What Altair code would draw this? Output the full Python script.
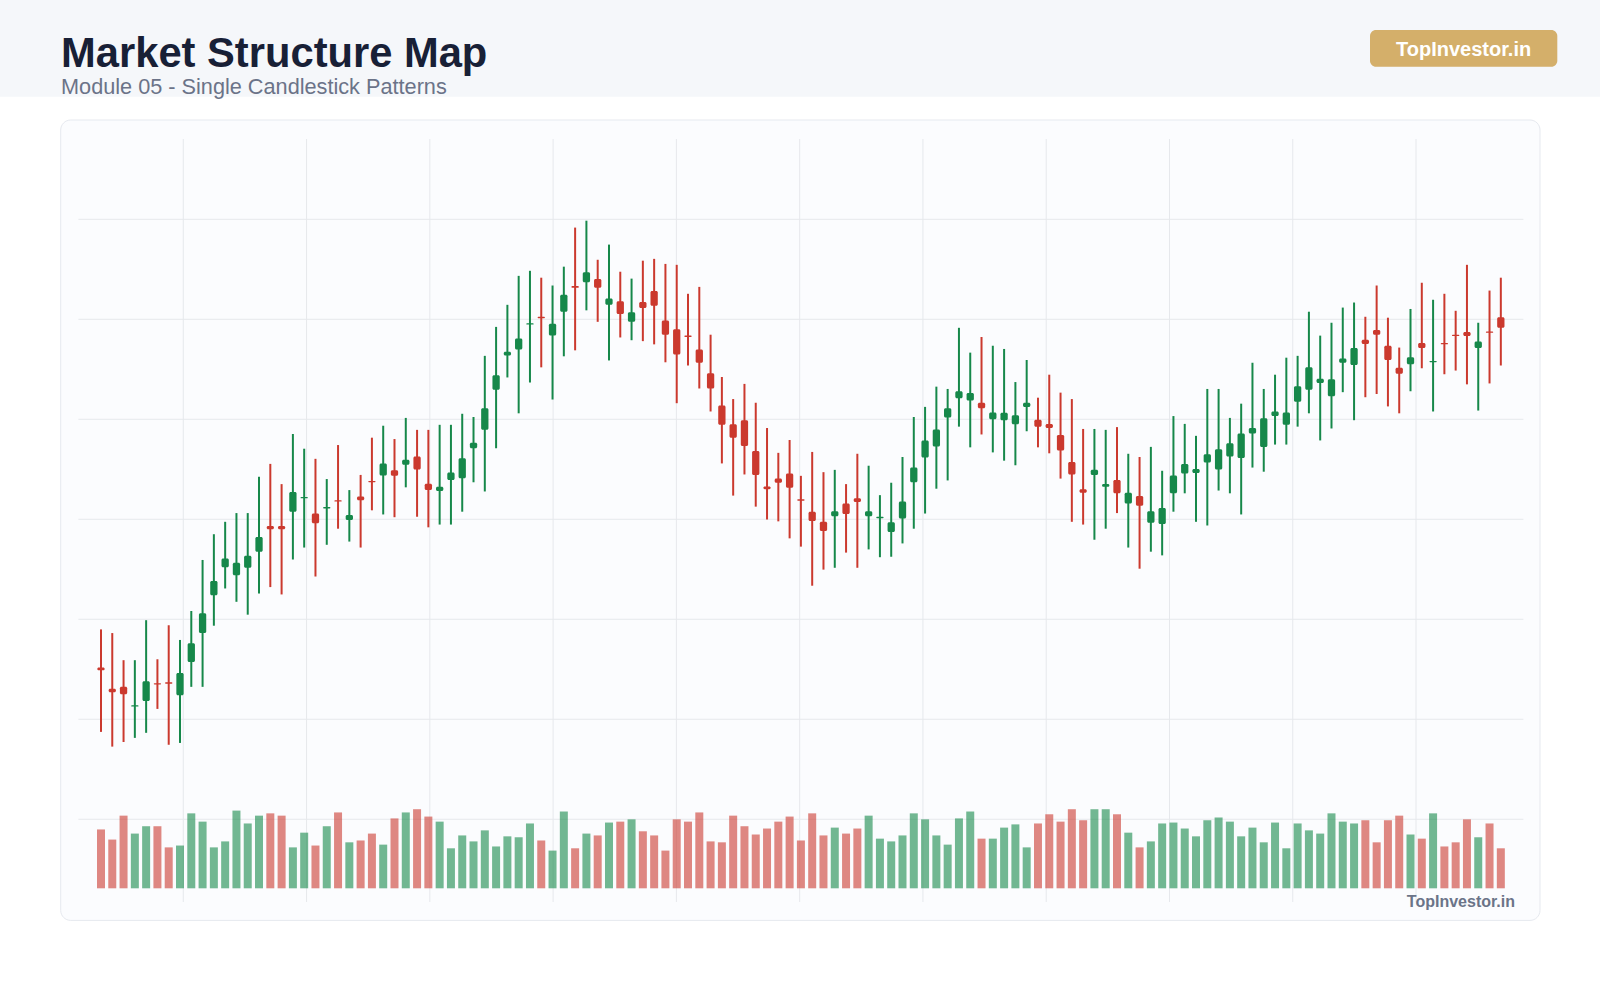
import altair as alt
import pandas as pd

# ---------------- data ----------------
opens = [98.0, 93.4, 93.8, 89.5, 90.7, 94.6, 94.8, 92.0, 99.2, 105.5,
         113.7, 119.8, 118.1, 119.7, 123.2, 128.8, 128.8, 131.9, 134.8, 131.5,
         132.6, 134.4, 130.1, 135.2, 138.6, 139.8, 140.9, 142.1, 143.9, 138.0,
         136.4, 138.8, 139.2, 145.7, 149.7, 158.4, 165.9, 167.2, 172.6, 174.3,
         170.2, 175.4, 181.0, 181.8, 182.5, 176.9, 177.7, 173.2, 177.5, 179.9,
         173.5, 171.6, 170.2, 167.2, 162.0, 155.0, 150.9, 151.8, 145.1, 137.4,
         139.1, 140.2, 134.6, 131.9, 129.7, 130.9, 133.7, 134.8, 130.9, 130.5,
         127.5, 130.4, 138.3, 143.7, 146.1, 152.4, 156.6, 156.1, 155.6, 152.0,
         151.8, 150.9, 154.7, 151.9, 151.0, 148.6, 142.7, 136.8, 139.9, 137.3,
         138.8, 133.7, 135.3, 129.5, 129.2, 135.9, 140.2, 140.3, 142.6, 141.1,
         143.9, 143.6, 148.9, 146.0, 152.7, 150.8, 155.8, 158.4, 159.9, 157.0,
         164.3, 163.8, 169.3, 171.4, 168.0, 163.2, 164.0, 168.6, 164.4, 168.6,
         170.4, 171.0, 167.5, 171.1, 174.2]

highs = [106.3, 105.5, 99.6, 99.6, 108.3, 99.8, 107.2, 104.0, 110.3, 121.4,
         127.0, 129.7, 131.6, 131.6, 139.5, 142.3, 137.9, 148.8, 145.6, 143.4,
         139.0, 146.4, 136.6, 139.9, 148.0, 150.6, 147.7, 152.3, 149.7, 149.7,
         150.8, 150.8, 153.2, 152.5, 165.8, 172.1, 176.9, 183.2, 184.3, 182.8,
         181.1, 185.2, 193.7, 195.2, 186.7, 190.0, 184.1, 182.6, 186.5, 186.9,
         185.8, 185.6, 179.3, 180.8, 170.4, 161.2, 156.4, 159.7, 155.6, 150.1,
         144.7, 147.5, 139.7, 144.9, 140.5, 141.0, 137.9, 144.5, 141.9, 135.5,
         138.2, 143.8, 152.5, 154.7, 159.1, 158.6, 171.9, 166.5, 169.9, 168.0,
         167.3, 160.1, 164.9, 156.7, 161.7, 157.8, 156.4, 149.9, 149.9, 149.7,
         150.3, 144.5, 143.8, 146.0, 140.8, 152.7, 151.0, 148.4, 158.6, 158.6,
         152.3, 155.4, 164.3, 158.6, 161.7, 165.4, 165.8, 175.4, 170.2, 173.0,
         176.3, 177.4, 174.3, 181.1, 174.1, 167.6, 176.0, 181.7, 178.0, 179.3,
         175.6, 185.6, 173.0, 180.0, 182.8]

lows = [84.0, 80.8, 81.8, 82.7, 83.8, 89.0, 81.2, 81.6, 93.8, 93.8,
        107.1, 115.2, 112.3, 109.5, 114.1, 115.5, 113.9, 121.5, 124.1, 117.8,
        124.7, 128.2, 125.4, 124.1, 132.2, 131.3, 130.7, 137.2, 130.8, 128.5,
        129.1, 129.1, 131.9, 138.3, 136.3, 145.7, 161.1, 153.3, 160.0, 163.3,
        156.3, 165.7, 167.0, 175.7, 173.2, 164.8, 169.8, 169.2, 169.0, 168.3,
        164.4, 155.5, 163.7, 158.7, 153.7, 142.4, 135.4, 140.0, 133.0, 130.2,
        129.8, 126.1, 124.3, 115.8, 119.3, 119.7, 123.0, 119.7, 123.7, 122.0,
        122.1, 125.0, 128.2, 131.5, 136.9, 138.7, 150.4, 145.9, 148.7, 144.8,
        143.0, 142.0, 149.4, 145.9, 144.6, 139.1, 129.7, 129.1, 125.8, 128.2,
        131.6, 124.1, 119.5, 123.2, 122.4, 131.9, 135.9, 129.7, 128.9, 136.5,
        135.9, 131.3, 141.5, 140.6, 146.5, 146.5, 150.4, 153.3, 147.4, 150.0,
        157.9, 151.8, 156.8, 157.5, 154.8, 153.3, 158.1, 163.1, 153.7, 161.8,
        162.6, 159.6, 153.9, 159.8, 163.7]

closes = [97.4, 92.6, 92.2, 89.8, 95.0, 94.3, 94.5, 96.8, 103.3, 109.8,
          116.8, 121.7, 120.8, 122.3, 126.4, 128.1, 128.1, 136.2, 135.1, 129.4,
          132.9, 134.1, 131.2, 134.4, 138.3, 142.4, 139.7, 143.2, 141.1, 136.6,
          137.3, 140.4, 143.5, 146.9, 154.4, 161.6, 166.7, 169.6, 172.9, 174.0,
          172.8, 179.1, 180.6, 184.0, 180.6, 178.3, 174.9, 175.3, 176.2, 176.7,
          170.4, 166.1, 169.9, 164.3, 158.7, 150.8, 148.0, 146.2, 139.9, 136.8,
          138.2, 137.1, 134.3, 129.9, 127.7, 132.0, 131.4, 134.0, 132.0, 130.8,
          129.6, 134.1, 141.5, 147.4, 149.8, 154.4, 158.1, 157.7, 154.4, 153.5,
          153.4, 152.9, 155.6, 150.4, 150.1, 145.2, 140.0, 136.0, 141.0, 137.9,
          135.9, 136.0, 133.2, 132.0, 132.7, 139.8, 142.3, 141.2, 144.4, 145.5,
          146.8, 148.9, 150.1, 152.2, 153.7, 153.5, 159.2, 163.3, 160.8, 160.7,
          165.2, 167.5, 168.4, 170.4, 164.9, 161.9, 165.5, 167.5, 164.7, 168.3,
          170.1, 170.1, 168.9, 170.8, 171.9]

volumes = [128, 106, 158, 119, 135, 135, 89, 93, 163, 145,
           89, 102, 169, 141, 158, 163, 158, 89, 121, 93,
           135, 165, 100, 104, 119, 95, 152, 165, 172, 156,
           145, 87, 115, 102, 126, 91, 113, 111, 141, 104,
           82, 167, 87, 119, 115, 143, 145, 150, 124, 115,
           82, 150, 145, 165, 102, 100, 158, 135, 117, 130,
           145, 156, 104, 163, 115, 132, 119, 130, 158, 108,
           102, 115, 163, 150, 115, 95, 152, 167, 108, 108,
           132, 139, 89, 141, 161, 145, 172, 148, 172, 172,
           161, 121, 89, 102, 141, 143, 130, 113, 148, 154,
           145, 113, 132, 100, 143, 87, 141, 126, 119, 163,
           145, 141, 148, 100, 148, 158, 117, 108, 163, 91,
           100, 150, 111, 141, 87]

price_grid = [65, 86.75, 108.5, 130.25, 152, 173.75, 195.5]
time_grid = [7.29, 18.21, 29.13, 40.05, 50.97, 61.89, 72.81, 83.73, 94.65, 105.57, 116.49]

title_text = "Market Structure Map"
subtitle_text = "Module 05 - Single Candlestick Patterns"
brand_text = "TopInvestor.in"

# ---------------- table ----------------
days = list(range(len(opens)))
df = pd.DataFrame({"day": days, "open": opens, "high": highs, "low": lows,
                   "close": closes, "volume": volumes})
df["dir"] = ["up" if c >= o else "down" for o, c in zip(opens, closes)]
df["base"] = 0

GREEN = "#16884a"
RED = "#cb392e"
FONT = "Liberation Sans"

xs = alt.Scale(domain=[-2, 126], nice=False, zero=False, padding=0)
ps = alt.Scale(domain=[47.0, 212.97], nice=False, zero=False, padding=0)
vs = alt.Scale(domain=[-29.8, 1629.7], nice=False, zero=False, padding=0)
col = alt.Color("dir:N", scale=alt.Scale(domain=["up", "down"], range=[GREEN, RED]), legend=None)
X = alt.X("day:Q", scale=xs, axis=None)

one = pd.DataFrame({"k": [0]})

header = alt.Chart(one).mark_rect(fill="#f5f7fa").encode(
    x=alt.value(-78.4), x2=alt.value(1521.6), y=alt.value(-139), y2=alt.value(-42.3))
card = alt.Chart(one).mark_rect(fill="#fbfcfe", stroke="#e6e9ef", strokeWidth=1, cornerRadius=10).encode(
    x=alt.value(-17.7), x2=alt.value(1461.6), y=alt.value(-19), y2=alt.value(781.4))
badge = alt.Chart(one).mark_rect(fill="#d4af6a", cornerRadius=6).encode(
    x=alt.value(1291.6), x2=alt.value(1478.9), y=alt.value(-109), y2=alt.value(-72.3))

badge_txt = alt.Chart(pd.DataFrame({"t": [brand_text]})).mark_text(
    align="center", baseline="alphabetic", font=FONT, fontSize=20, fontWeight="bold", color="#ffffff").encode(
    x=alt.value(1385.2), y=alt.value(-83), text="t:N")
title = alt.Chart(pd.DataFrame({"t": [title_text]})).mark_text(
    align="left", baseline="alphabetic", font=FONT, fontSize=41.7, fontWeight="bold", color="#182036").encode(
    x=alt.value(-17.3), y=alt.value(-72.3), text="t:N")
subtitle = alt.Chart(pd.DataFrame({"t": [subtitle_text]})).mark_text(
    align="left", baseline="alphabetic", font=FONT, fontSize=21.7, color="#6b7388").encode(
    x=alt.value(-17.4), y=alt.value(-44.8), text="t:N")
watermark = alt.Chart(pd.DataFrame({"t": [brand_text]})).mark_text(
    align="right", baseline="alphabetic", font=FONT, fontSize=16, fontWeight="bold", color="#6b7488").encode(
    x=alt.value(1436.6), y=alt.value(767.7), text="t:N")

hgrid = alt.Chart(pd.DataFrame({"g": price_grid})).mark_rule(color="#e6e8ec", strokeWidth=1).encode(
    y=alt.Y("g:Q", scale=ps, axis=None))
vgrid = alt.Chart(pd.DataFrame({"g": time_grid})).mark_rule(color="#e6e8ec", strokeWidth=1).encode(
    x=alt.X("g:Q", scale=xs, axis=None))

base = alt.Chart(df)
vol = base.mark_bar(size=8, opacity=0.6).encode(
    x=X, y=alt.Y("volume:Q", scale=vs, axis=None), y2="base:Q", color=col)
wick = base.mark_rule(strokeWidth=2).encode(
    x=X, y=alt.Y("low:Q", scale=ps, axis=None), y2="high:Q", color=col)
body = base.mark_bar(size=7.3, cornerRadius=1.5).encode(
    x=X, y=alt.Y("open:Q", scale=ps, axis=None), y2="close:Q", color=col)

chart = alt.layer(
    header, card, badge, badge_txt, title, subtitle,
    hgrid, vgrid, vol, wick, body, watermark
).resolve_scale(y="independent").properties(
    width=1445, height=763,
    padding={"left": 78.4, "top": 139, "right": 76.6, "bottom": 98},
    autosize=alt.AutoSizeParams(type="none"),
    background="#ffffff",
).configure_view(stroke=None)

chart.save("out.html", embed_options={"renderer": "svg", "actions": False})
